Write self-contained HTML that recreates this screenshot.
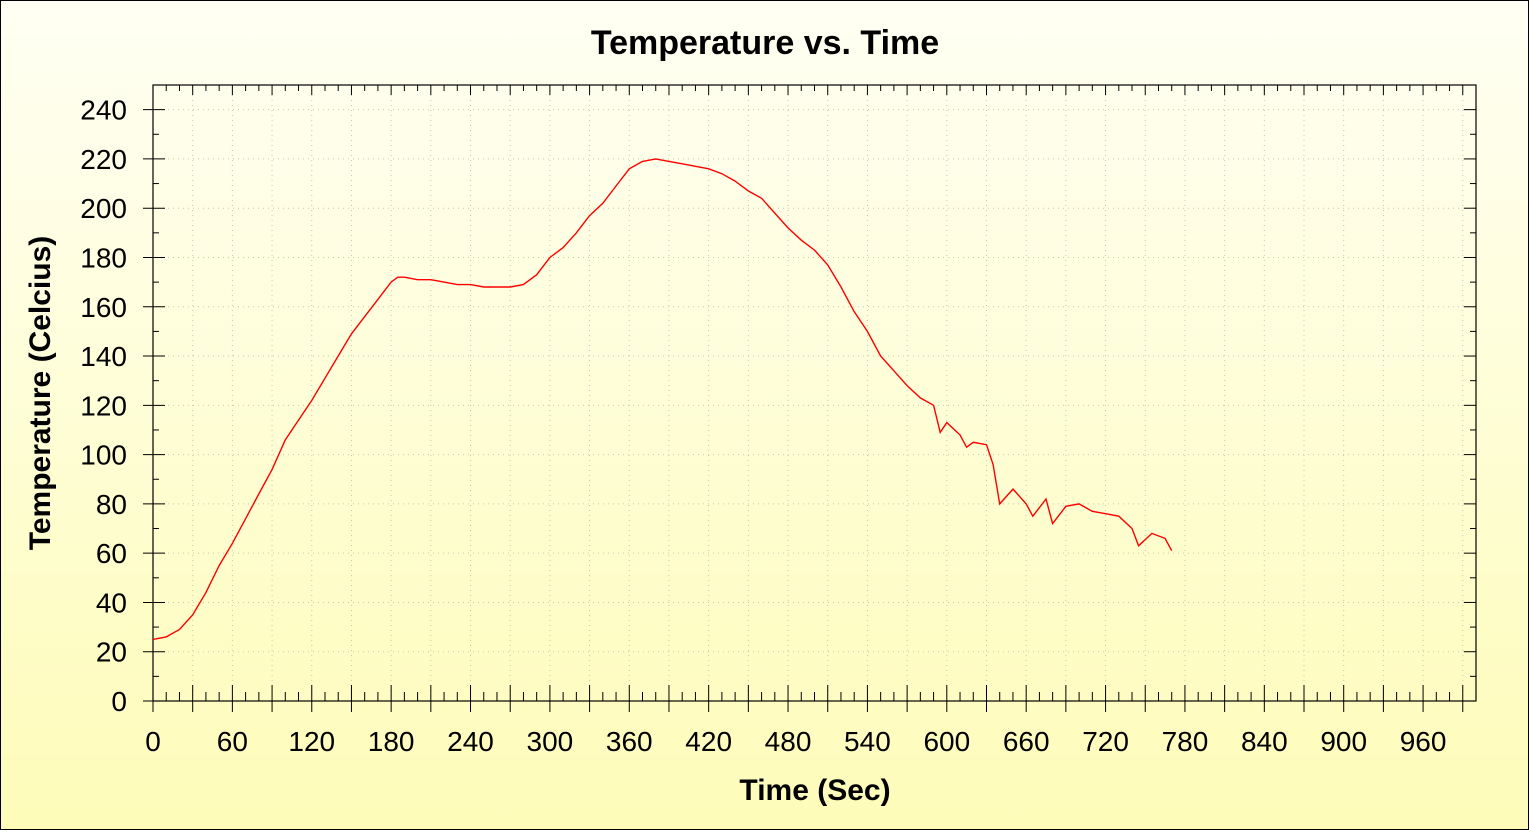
<!DOCTYPE html>
<html><head><meta charset="utf-8"><style>
html,body{margin:0;padding:0;}
body{width:1529px;height:830px;overflow:hidden;font-family:"Liberation Sans",sans-serif;}
svg{display:block;}
</style></head><body>
<svg id="chart" width="1529" height="830">
<defs><linearGradient id="bg" x1="0" y1="0" x2="0" y2="1"><stop offset="0" stop-color="#fffff4"/><stop offset="1" stop-color="#fefcb8"/></linearGradient></defs>
<rect x="0.5" y="0.5" width="1528" height="829" fill="url(#bg)" stroke="#000"/>
<text x="765" y="54" text-anchor="middle" font-size="34" font-weight="bold">Temperature vs. Time</text>
<text x="815" y="800" text-anchor="middle" font-size="30" font-weight="bold">Time (Sec)</text>
<text transform="translate(50,393) rotate(-90)" text-anchor="middle" font-size="30" font-weight="bold">Temperature (Celcius)</text>
<g id="grid"></g><g id="axes"></g><g id="series"></g>
</svg>
<script>
const times=[0,10,20,30,40,50,60,70,80,90,100,110,120,130,140,150,160,170,180,185,190,200,210,220,230,240,250,260,270,280,290,300,310,320,330,340,350,360,370,380,390,400,410,420,430,440,450,460,470,480,490,500,510,520,530,540,550,560,570,580,590,595,600,610,615,620,630,635,640,650,660,665,675,680,690,700,710,720,730,740,745,755,765,770];
const temps=[25,26,29,35,44,55,64,74,84,94,106,114,122,131,140,149,156,163,170,172,172,171,171,170,169,169,168,168,168,169,173,180,184,190,197,202,209,216,219,220,219,218,217,216,214,211,207,204,198,192,187,183,177,168,158,150,140,134,128,123,120,109,113,108,103,105,104,96,80,86,80,75,82,72,79,80,77,76,75,70,63,68,66,61];
const xTickLabels=[0,60,120,180,240,300,360,420,480,540,600,660,720,780,840,900,960];
const yTickLabels=[0,20,40,60,80,100,120,140,160,180,200,220,240];
const X0=153,X1=1476,Y0=701,Y1=85,XMAX=1000,YMAX=250;
const sx=t=>X0+(X1-X0)*t/XMAX, sy=v=>Y0-(Y0-Y1)*v/YMAX;
const NS="http://www.w3.org/2000/svg";
function mk(tag,attrs,parent){const e=document.createElementNS(NS,tag);for(const k in attrs)e.setAttribute(k,attrs[k]);document.getElementById(parent).appendChild(e);return e;}
for(let t=30;t<XMAX;t+=30){const l=mk('line',{x1:sx(t),x2:sx(t),y1:Y1,y2:Y0,stroke:'#c8c8b0','stroke-dasharray':'1 4'},'grid');

}
for(let v=20;v<YMAX;v+=20){const l=mk('line',{x1:X0,x2:X1,y1:sy(v),y2:sy(v),stroke:'#c8c8b0','stroke-dasharray':'1 4'},'grid');

}
const fr=mk('rect',{x:X0,y:Y1,width:X1-X0,height:Y0-Y1,fill:'none',stroke:'#000','stroke-width':1.2},'axes');


for(let t=0;t<=XMAX;t+=10){const maj=t%30===0;
mk('line',{x1:sx(t),x2:sx(t),y1:Y0-(maj?16:9),y2:Y0+(maj?11:0),stroke:'#000'},'axes');
mk('line',{x1:sx(t),x2:sx(t),y1:Y1,y2:Y1+(maj?10:6),stroke:'#000'},'axes');}
xTickLabels.forEach(t=>{const e=mk('text',{x:sx(t),y:751,'text-anchor':'middle','font-size':28},'axes');e.textContent=t;

});
for(let v=0;v<=YMAX;v+=10){const maj=v%20===0;
mk('line',{x1:X0-(maj?10:0),x2:X0+(maj?12:6),y1:sy(v),y2:sy(v),stroke:'#000'},'axes');
mk('line',{x1:X1-(maj?12:6),x2:X1,y1:sy(v),y2:sy(v),stroke:'#000'},'axes');}
yTickLabels.forEach(v=>{const e=mk('text',{x:127,y:sy(v)+10,'text-anchor':'end','font-size':28},'axes');e.textContent=v;

});
const pts=times.map((t,i)=>sx(t).toFixed(1)+','+sy(temps[i]).toFixed(1)).join(' ');
const pl=mk('polyline',{points:pts,fill:'none',stroke:'#ff0000','stroke-width':1.4},'series');


</script>
</body></html>
